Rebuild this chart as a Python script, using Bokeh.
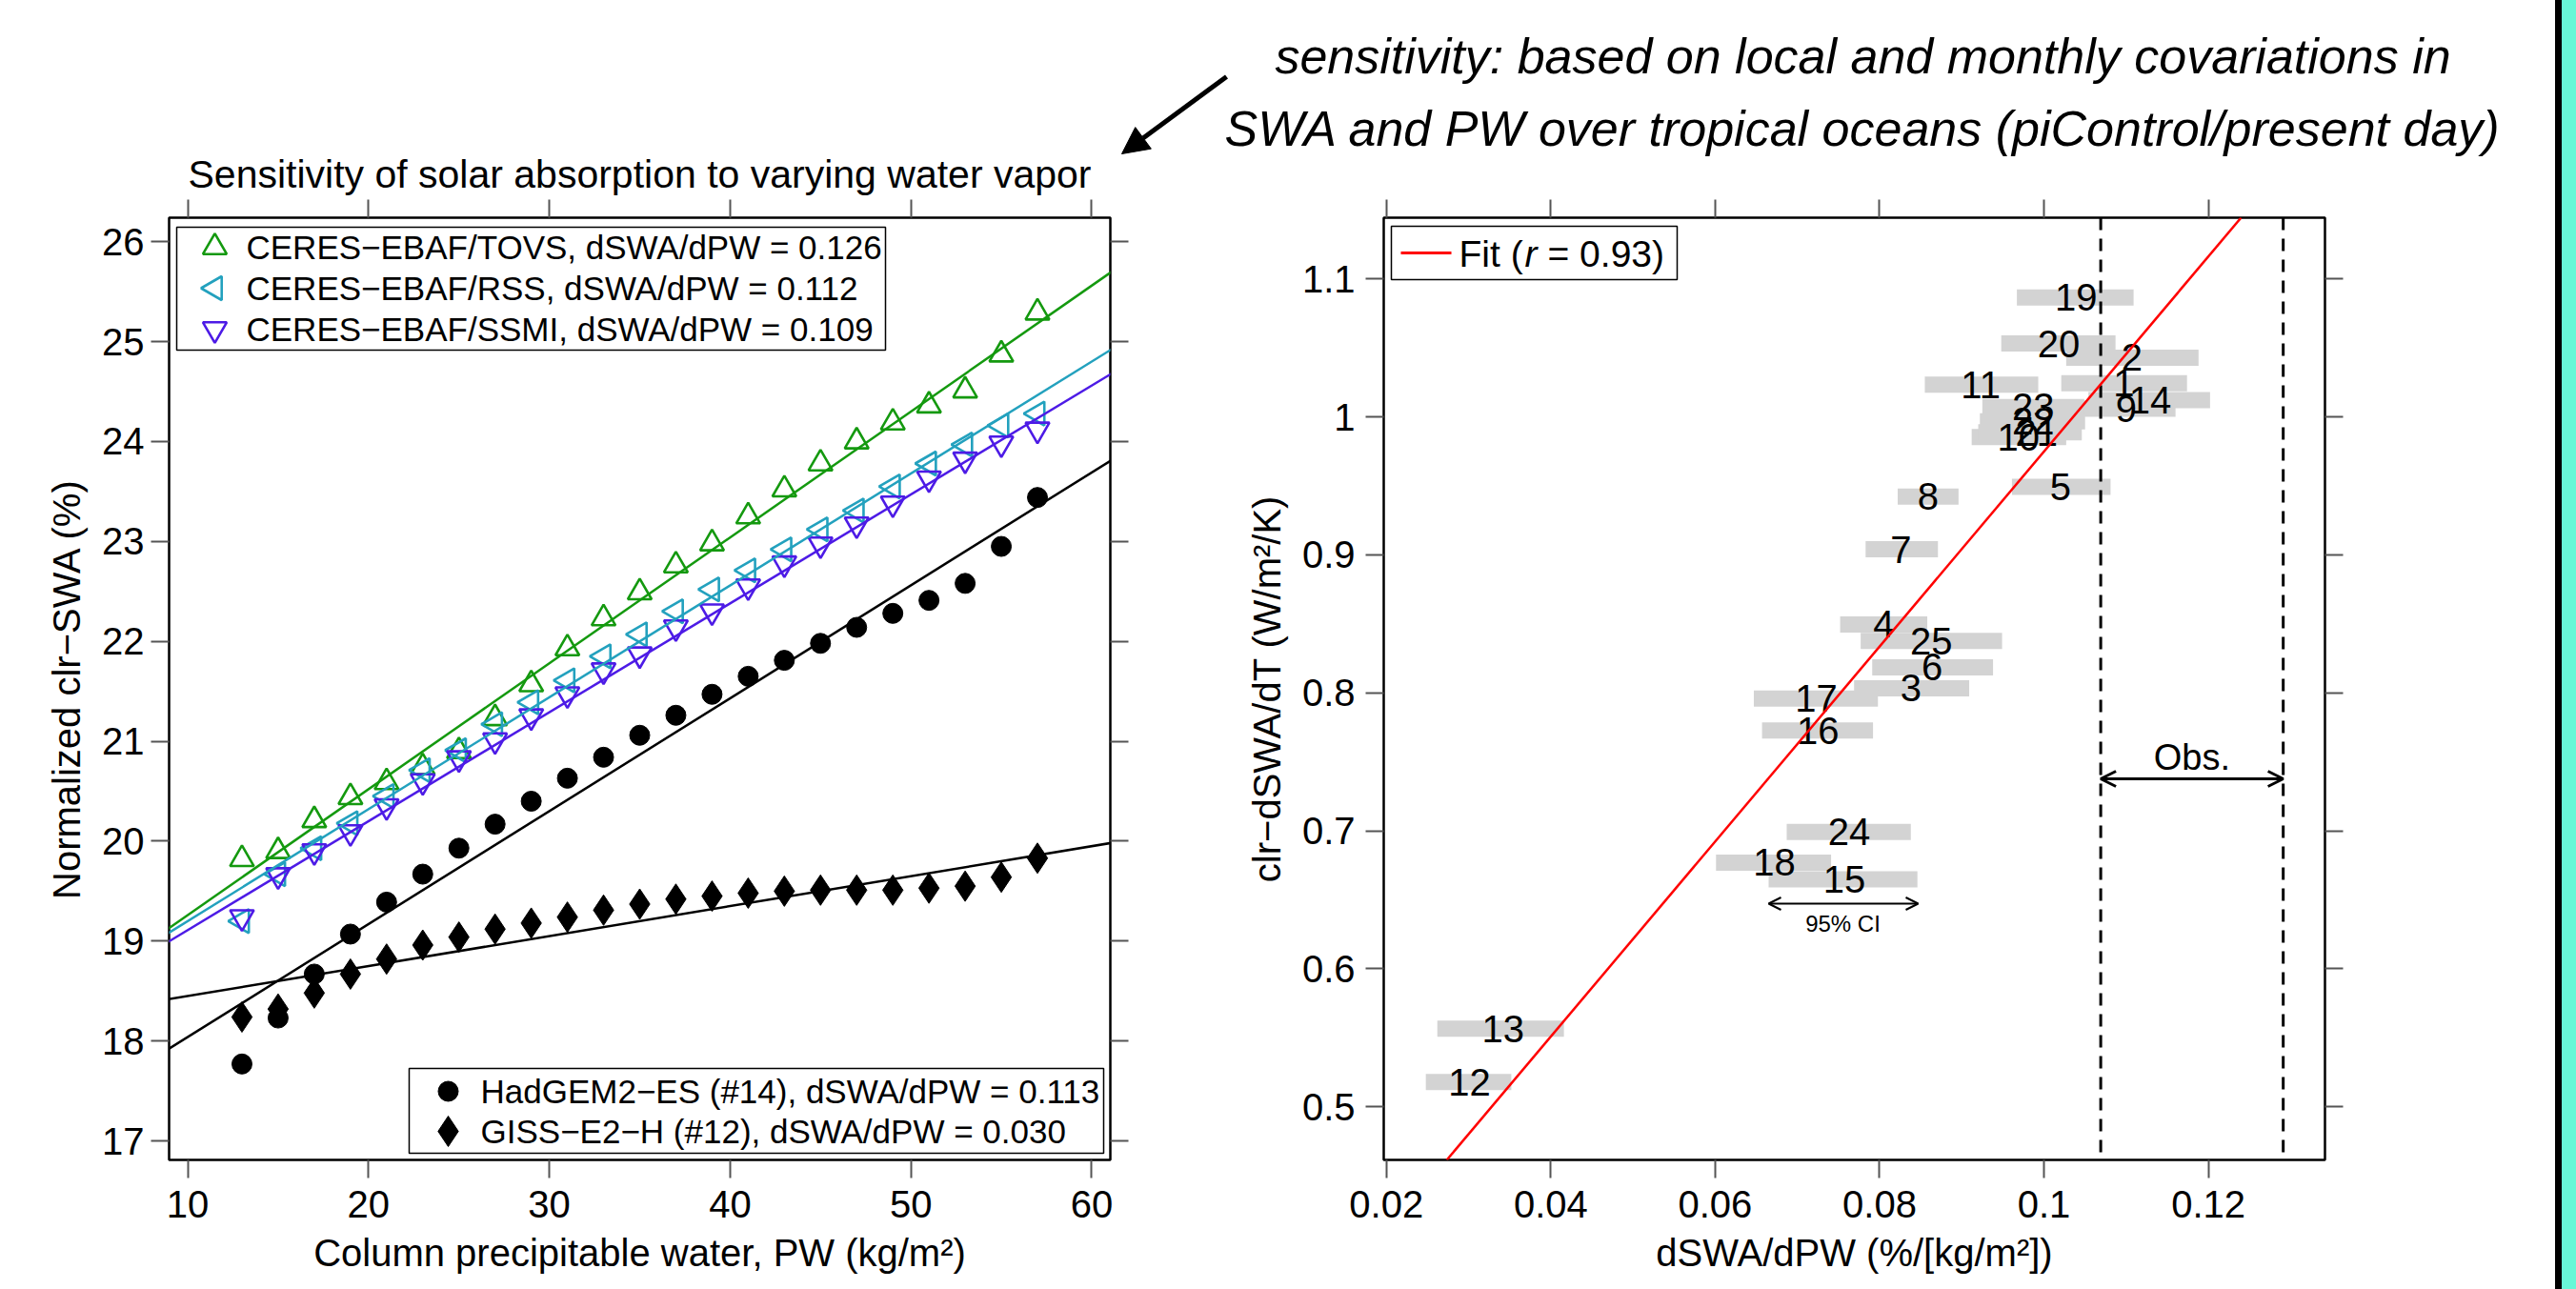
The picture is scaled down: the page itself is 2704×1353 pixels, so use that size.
import math
from bokeh.plotting import figure
from bokeh.models import (Range1d, LinearAxis, FixedTicker, Span, Slope, Arrow,
                          NormalHead, OpenHead, Label, Div)
from bokeh.layouts import row, column
from bokeh.embed import file_html
from bokeh.resources import INLINE
from bokeh.core.properties import value

# ---------------- data: left panel ----------------
pw = [13, 15, 17, 19, 21, 23, 25, 27, 29, 31, 33, 35, 37, 39, 41, 43, 45, 47, 49, 51, 53, 55, 57]
tovs = [19.82, 19.90, 20.21, 20.44, 20.59, 20.74, 20.90, 21.23, 21.57, 21.93, 22.23, 22.49,
        22.76, 22.98, 23.25, 23.52, 23.78, 24.00, 24.19, 24.36, 24.51, 24.87, 25.29]
rss = [19.20, 19.67, 19.93, 20.18, 20.45, 20.71, 20.91, 21.17, 21.39, 21.61, 21.85, 22.07,
       22.30, 22.52, 22.71, 22.92, 23.12, 23.31, 23.55, 23.78, 23.97, 24.16, 24.28]
ssmi = [19.24, 19.66, 19.90, 20.09, 20.35, 20.60, 20.83, 21.01, 21.25, 21.47, 21.71, 21.87,
        22.14, 22.30, 22.55, 22.78, 22.97, 23.17, 23.38, 23.63, 23.82, 23.98, 24.12]
hadgem = [17.77, 18.23, 18.67, 19.07, 19.39, 19.67, 19.93, 20.17, 20.40, 20.63, 20.84, 21.06,
          21.26, 21.47, 21.65, 21.81, 21.98, 22.14, 22.28, 22.41, 22.58, 22.95, 23.44]
giss = [18.24, 18.32, 18.48, 18.67, 18.82, 18.96, 19.04, 19.12, 19.18, 19.24, 19.31, 19.37,
        19.42, 19.45, 19.48, 19.50, 19.51, 19.51, 19.51, 19.53, 19.55, 19.64, 19.83]
# linear fits (intercept, slope)
fit_tovs = (18.00, 0.126)
fit_rss = (18.08, 0.112)
fit_ssmi = (18.02, 0.109)
fit_hadgem = (16.91, 0.113)
fit_giss = (18.15, 0.030)
legend_top = ["CERES\u2212EBAF/TOVS, dSWA/dPW = 0.126",
              "CERES\u2212EBAF/RSS, dSWA/dPW = 0.112",
              "CERES\u2212EBAF/SSMI, dSWA/dPW = 0.109"]
legend_bot = ["HadGEM2\u2212ES (#14), dSWA/dPW = 0.113",
              "GISS\u2212E2\u2212H (#12), dSWA/dPW = 0.030"]
xticks1 = [10, 20, 30, 40, 50, 60]
yticks1 = [17, 18, 19, 20, 21, 22, 23, 24, 25, 26]

# ---------------- data: right panel ----------------
models = [str(i) for i in range(1, 26)]
sens = [0.1097, 0.1107, 0.0838, 0.0805, 0.1020, 0.0864, 0.0826, 0.0859, 0.1100, 0.0969,
        0.0923, 0.0301, 0.0342, 0.1129, 0.0757, 0.0725, 0.0723, 0.0672, 0.1039, 0.1018,
        0.0991, 0.0987, 0.0987, 0.0763, 0.0863]
sens_lo = [0.1021, 0.1027, 0.0769, 0.0752, 0.0961, 0.0791, 0.0783, 0.0822, 0.1037, 0.0912,
           0.0855, 0.0248, 0.0262, 0.1054, 0.0665, 0.0657, 0.0647, 0.0601, 0.0967, 0.0948,
           0.0920, 0.0922, 0.0925, 0.0687, 0.0777]
sens_hi = [0.1174, 0.1188, 0.0909, 0.0858, 0.1081, 0.0938, 0.0871, 0.0896, 0.1160, 0.1027,
           0.0993, 0.0352, 0.0416, 0.1202, 0.0846, 0.0792, 0.0798, 0.0741, 0.1109, 0.1087,
           0.1046, 0.1050, 0.1049, 0.0838, 0.0949]
dswa_dt = [1.0245, 1.0430, 0.8033, 0.8496, 0.9493, 0.8185, 0.9041, 0.9423, 1.0060, 0.9854,
           1.0234, 0.5178, 0.5565, 1.0122, 0.6648, 0.7727, 0.7958, 0.6769, 1.0867, 1.0533,
           0.9889, 0.9969, 1.0073, 0.6992, 0.8377]
fit_r = (0.268, 7.07)  # intercept, slope
obs_range = [0.1069, 0.1291]
xticks2 = [0.02, 0.04, 0.06, 0.08, 0.10, 0.12]
xlabels2 = ["0.02", "0.04", "0.06", "0.08", "0.1", "0.12"]
yticks2 = [0.5, 0.6, 0.7, 0.8, 0.9, 1.0, 1.1]
ylabels2 = ["0.5", "0.6", "0.7", "0.8", "0.9", "1", "1.1"]

FONT = "Liberation Sans"
GREEN = "#14990f"
CYAN = "#23a1be"
PURPLE = "#4d1be6"
TICKC = "#555555"


def style_axis(ax, ticks, show=True, overrides=None, standoff=8):
    ax.ticker = FixedTicker(ticks=ticks)
    ax.major_tick_out = 19
    ax.major_tick_in = 0
    ax.minor_tick_line_color = None
    ax.major_tick_line_color = TICKC
    ax.major_tick_line_width = 2
    ax.axis_line_color = None
    ax.major_label_text_font = FONT
    if show:
        ax.major_label_text_font_size = "40px"
        ax.major_label_text_color = "black"
        ax.major_label_standoff = standoff
    else:
        ax.major_label_text_font_size = "1px"
        ax.major_label_text_color = None
        ax.major_label_standoff = 0
    ax.axis_label_text_font = FONT
    ax.axis_label_text_font_size = "40px"
    ax.axis_label_text_font_style = "normal"
    ax.axis_label_text_color = "black"
    ax.axis_label_standoff = 12
    if overrides:
        ax.major_label_overrides = overrides


def base_fig(width, height, xr, yr, left, right, top, bottom):
    p = figure(width=width, height=height, x_range=xr, y_range=yr, title=None,
               output_backend="svg", toolbar_location=None,
               min_border_left=left, min_border_right=right,
               min_border_top=top, min_border_bottom=bottom)
    p.grid.visible = False
    p.outline_line_color = "black"
    p.outline_line_width = 2.5
    p.background_fill_color = "white"
    p.border_fill_color = "white"
    return p


# ======================= HEADER (page-pixel coordinates) =======================
HW, HH = 2682, 205
hdr = figure(width=HW, height=HH, x_range=Range1d(0, HW), y_range=Range1d(HH, 0), title=None,
             output_backend="svg", toolbar_location=None, min_border=0)
hdr.axis.visible = False
hdr.grid.visible = False
hdr.outline_line_color = None
hdr.background_fill_color = "white"
hdr.border_fill_color = "white"
hdr.text(x=[671], y=[182], text=["Sensitivity of solar absorption to varying water vapor"],
         text_font=value(FONT), text_font_size="41px", text_align="center",
         text_baseline="middle", text_color="black")
hdr.text(x=[1955, 1955], y=[58, 134],
         text=["sensitivity: based on local and monthly covariations in",
               "SWA and PW over tropical oceans (piControl/present day)"],
         text_font=value(FONT), text_font_size="52px", text_font_style="italic",
         text_align="center", text_baseline="middle", text_color="black")
hdr.add_layout(Arrow(end=NormalHead(size=28, fill_color="black", line_color="black"),
                     x_start=1287, y_start=80, x_end=1177, y_end=161,
                     line_width=5, line_color="black"))

# ======================= LEFT PANEL =======================
X0, X1_ = 8.97, 61.03
Y0, Y1_ = 16.81, 26.24
PH = 1353 - HH
p1 = base_fig(1300, PH, Range1d(X0, X1_), Range1d(Y0, Y1_), 177, 135, 23, PH - 23 - 989)

style_axis(p1.xaxis[0], xticks1, standoff=13)
style_axis(p1.yaxis[0], yticks1, standoff=7)
p1.xaxis[0].axis_label = "Column precipitable water, PW (kg/m\u00b2)"
p1.yaxis[0].axis_label = "Normalized clr\u2212SWA (%)"
top1 = LinearAxis()
style_axis(top1, xticks1, show=False)
p1.add_layout(top1, "above")
right1 = LinearAxis()
style_axis(right1, yticks1, show=False)
p1.add_layout(right1, "right")


def px1(px):
    return X0 + (px - 177) / 988 * (X1_ - X0)


def py1(py):
    return Y1_ - (py - 228) / 989 * (Y1_ - Y0)


for fit, col in [(fit_tovs, GREEN), (fit_rss, CYAN), (fit_ssmi, PURPLE),
                 (fit_hadgem, "black"), (fit_giss, "black")]:
    p1.add_layout(Slope(gradient=fit[1], y_intercept=fit[0], line_color=col, line_width=2.5))

p1.scatter(pw, tovs, marker="triangle", size=25, fill_color=None, line_color=GREEN, line_width=2.6)
p1.scatter(pw, rss, marker="triangle", angle=math.pi / 2, size=25, fill_color=None,
           line_color=CYAN, line_width=2.6)
p1.scatter(pw, ssmi, marker="inverted_triangle", size=25, fill_color=None,
           line_color=PURPLE, line_width=2.6)
p1.scatter(pw, hadgem, marker="circle", size=21, fill_color="black", line_color="black")
p1.scatter(pw, giss, marker="diamond", size=32, fill_color="black", line_color="black")

# legend (top-left)
p1.quad(left=[px1(185)], right=[px1(929)], top=[py1(238)], bottom=[py1(367)],
        fill_color="white", line_color="black", line_width=1.5)
ly = [py1(259), py1(302), py1(345)]
p1.scatter([px1(225)], [ly[0]], marker="triangle", size=25, fill_color=None, line_color=GREEN, line_width=2.6)
p1.scatter([px1(225)], [ly[1]], marker="triangle", angle=math.pi / 2, size=25, fill_color=None,
           line_color=CYAN, line_width=2.6)
p1.scatter([px1(225)], [ly[2]], marker="inverted_triangle", size=25, fill_color=None,
           line_color=PURPLE, line_width=2.6)
p1.text(x=[px1(258)] * 3, y=ly, text=legend_top, text_font=value(FONT), text_font_size="35px",
        text_align="left", text_baseline="middle", text_color="black")
# legend (bottom-right)
p1.quad(left=[px1(429)], right=[px1(1158)], top=[py1(1121)], bottom=[py1(1210)],
        fill_color="white", line_color="black", line_width=1.5)
ly2 = [py1(1145), py1(1187)]
p1.scatter([px1(470)], [ly2[0]], marker="circle", size=21, fill_color="black", line_color="black")
p1.scatter([px1(470)], [ly2[1]], marker="diamond", size=32, fill_color="black", line_color="black")
p1.text(x=[px1(504)] * 2, y=ly2, text=legend_bot, text_font=value(FONT), text_font_size="35px",
        text_align="left", text_baseline="middle", text_color="black")

# ======================= RIGHT PANEL =======================
U0, U1 = 0.01968, 0.13418
V0, V1 = 0.4614, 1.1445
p2 = base_fig(1382, PH, Range1d(U0, U1), Range1d(V0, V1), 152, 242, 23, PH - 23 - 989)

style_axis(p2.xaxis[0], xticks2, overrides={t: l for t, l in zip(xticks2, xlabels2)}, standoff=13)
style_axis(p2.yaxis[0], yticks2, overrides={t: l for t, l in zip(yticks2, ylabels2)}, standoff=11)
p2.xaxis[0].axis_label = "dSWA/dPW (%/[kg/m\u00b2])"
p2.yaxis[0].axis_label = "clr\u2212dSWA/dT (W/m\u00b2/K)"
top2 = LinearAxis()
style_axis(top2, xticks2, show=False)
p2.add_layout(top2, "above")
right2 = LinearAxis()
style_axis(right2, yticks2, show=False)
p2.add_layout(right2, "right")


def px2(px):
    return U0 + (px - 1452) / 988 * (U1 - U0)


def py2(py):
    return V1 - (py - 228) / 989 * (V1 - V0)


p2.segment(x0=sens_lo, y0=dswa_dt, x1=sens_hi, y1=dswa_dt, line_width=17,
           line_color="#d3d3d3", line_cap="butt")
p2.text(x=sens, y=dswa_dt, text=models, text_font=value(FONT), text_font_size="40px",
        text_align="center", text_baseline="middle", text_color="black")

for loc in obs_range:
    p2.add_layout(Span(location=loc, dimension="height", line_color="black",
                       line_width=3, line_dash="13 9"))
p2.add_layout(Slope(gradient=fit_r[1], y_intercept=fit_r[0], line_color="red", line_width=2.5))

# Obs. range arrow
p2.add_layout(Arrow(start=OpenHead(size=16, line_width=3), end=OpenHead(size=16, line_width=3),
                    x_start=obs_range[0], y_start=py2(817), x_end=obs_range[1], y_end=py2(817),
                    line_width=3, line_color="black"))
p2.add_layout(Label(x=(obs_range[0] + obs_range[1]) / 2, y=py2(794), text="Obs.",
                    text_font=FONT, text_font_size="38px", text_align="center",
                    text_baseline="middle", text_color="black"))
# 95% CI arrow
p2.add_layout(Arrow(start=OpenHead(size=13, line_width=2), end=OpenHead(size=13, line_width=2),
                    x_start=px2(1856), y_start=py2(948), x_end=px2(2013), y_end=py2(948),
                    line_width=2, line_color="black"))
p2.add_layout(Label(x=px2(1934), y=py2(969), text="95% CI", text_font=FONT,
                    text_font_size="24px", text_align="center", text_baseline="middle",
                    text_color="black"))

# Fit legend
p2.quad(left=[px2(1460)], right=[px2(1760)], top=[py2(237)], bottom=[py2(293)],
        fill_color="white", line_color="black", line_width=1.5)
p2.segment(x0=[px2(1470)], y0=[py2(265)], x1=[px2(1523)], y1=[py2(265)],
           line_color="red", line_width=3)
p2.text(x=[px2(1531)], y=[py2(266)], text=["Fit ("], text_font=value(FONT), text_font_size="39px",
        text_align="left", text_baseline="middle", text_color="black")
p2.text(x=[px2(1600)], y=[py2(266)], text=["r"], text_font=value(FONT), text_font_size="39px",
        text_font_style="italic", text_align="left", text_baseline="middle", text_color="black")
p2.text(x=[px2(1624)], y=[py2(266)], text=["= 0.93)"], text_font=value(FONT),
        text_font_size="39px", text_align="left", text_baseline="middle", text_color="black")

bar_black = Div(width=7, height=1353, margin=0, styles={"background-color": "black"})
bar_aqua = Div(width=15, height=1353, margin=0, styles={"background-color": "#68F7D7"})

layout = row(column(hdr, row(p1, p2)), bar_black, bar_aqua)
open("out.html", "w").write(file_html(layout, INLINE))
